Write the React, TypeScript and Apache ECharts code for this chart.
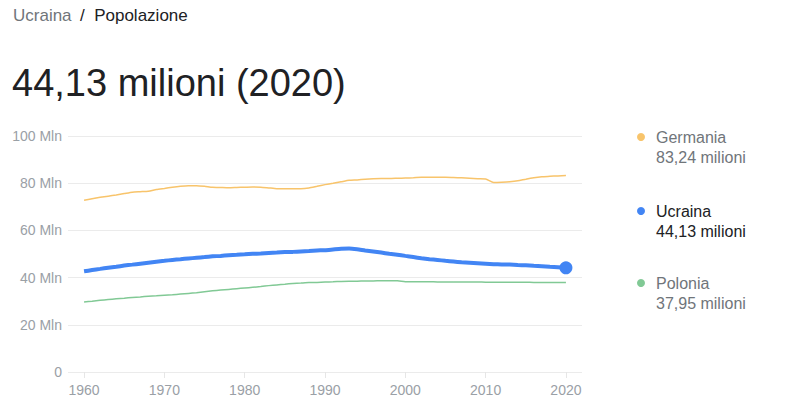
import React, { useEffect, useRef } from "react";
import * as echarts from "echarts";

const years: number[] = [];
for (let y = 1960; y <= 2020; y++) years.push(y);

const germania = [
  72.8, 73.4, 74.0, 74.5, 75.0, 75.6, 76.2, 76.4, 76.6, 77.3,
  77.8, 78.3, 78.7, 78.95, 78.97, 78.7, 78.3, 78.2, 78.1, 78.2,
  78.3, 78.4, 78.3, 78.0, 77.7, 77.7, 77.7, 77.7, 78.0, 78.7,
  79.4, 80.0, 80.6, 81.2, 81.4, 81.7, 81.9, 82.0, 82.0, 82.1,
  82.2, 82.3, 82.5, 82.5, 82.5, 82.5, 82.4, 82.3, 82.1, 81.9,
  81.8, 80.3, 80.4, 80.6, 81.0, 81.7, 82.3, 82.7, 82.9, 83.1,
  83.24,
];
const ucraina = [
  42.66, 43.2, 43.7, 44.2, 44.6, 45.1, 45.5, 45.9, 46.3, 46.7,
  47.1, 47.5, 47.8, 48.1, 48.4, 48.7, 49.0, 49.2, 49.5, 49.7,
  49.9, 50.1, 50.2, 50.4, 50.6, 50.8, 50.9, 51.1, 51.3, 51.5,
  51.6, 51.9, 52.2, 52.3, 52.0, 51.5, 51.1, 50.6, 50.1, 49.7,
  49.2, 48.7, 48.2, 47.8, 47.5, 47.1, 46.8, 46.5, 46.3, 46.1,
  45.9, 45.7, 45.6, 45.5, 45.3, 45.2, 45.0, 44.8, 44.6, 44.4,
  44.13,
];
const polonia = [
  29.64, 30.0, 30.4, 30.7, 31.0, 31.3, 31.6, 31.8, 32.1, 32.3,
  32.5, 32.7, 33.0, 33.3, 33.6, 34.0, 34.4, 34.7, 35.0, 35.3,
  35.6, 35.9, 36.2, 36.6, 36.9, 37.2, 37.5, 37.7, 37.9, 37.96,
  38.1, 38.2, 38.4, 38.5, 38.5, 38.6, 38.6, 38.65, 38.66, 38.66,
  38.26, 38.25, 38.23, 38.2, 38.18, 38.17, 38.14, 38.12, 38.13, 38.15,
  38.04, 38.06, 38.06, 38.04, 38.01, 37.99, 37.97, 37.97, 37.97, 37.97,
  37.95,
];

const seriesNames = ["Germania", "Ucraina", "Polonia"];
const seriesColors = ["#f8c46b", "#4285f4", "#81c995"];
const yTicks = [0, 20, 40, 60, 80, 100];
const xTicks = [1960, 1970, 1980, 1990, 2000, 2010, 2020];

const FONT = "Arial, 'Liberation Sans', sans-serif";

const fmt = (v: number) => v.toFixed(2).replace(".", ",") + " milioni";

export default function App() {
  const ref = useRef<HTMLDivElement>(null);
  useEffect(() => {
    if (!ref.current) return;
    const chart = echarts.init(ref.current, undefined, { renderer: "svg" });
    const datasets = [germania, ucraina, polonia];
    const pairs = (arr: number[]) => arr.map((v, i) => [years[i], v]);
    const legendY = [137, 211, 283];
    const legendGraphics: any[] = [];
    seriesNames.forEach((name, i) => {
      const last = datasets[i][datasets[i].length - 1];
      const isMain = name === "Ucraina";
      legendGraphics.push({
        type: "circle",
        shape: { cx: 641, cy: legendY[i], r: 4 },
        style: { fill: seriesColors[i] },
      });
      legendGraphics.push({
        type: "text",
        x: 656,
        y: legendY[i],
        style: {
          text: name,
          fill: isMain ? "#202124" : "#70757a",
          font: `16px ${FONT}`,
          textVerticalAlign: "middle",
        },
      });
      legendGraphics.push({
        type: "text",
        x: 656,
        y: legendY[i] + 20,
        style: {
          text: fmt(last),
          fill: isMain ? "#202124" : "#70757a",
          font: `16px ${FONT}`,
          textVerticalAlign: "middle",
        },
      });
    });

    chart.setOption({
      animation: false,
      grid: { left: 68, right: 205, top: 136, bottom: 40 },
      xAxis: {
        type: "value",
        min: 1958,
        max: 2022,
        interval: 2,
        axisLine: { show: false },
        axisTick: {
          show: true,
          customValues: xTicks,
          length: 6,
          lineStyle: { color: "#e6e6e6" },
        },
        splitLine: { show: false },
        axisLabel: {
          color: "#9aa0a6",
          fontFamily: FONT,
          fontSize: 14,
          margin: 11,
          customValues: xTicks,
          formatter: (v: number) => String(v),
        },
      },
      yAxis: {
        type: "value",
        min: yTicks[0],
        max: yTicks[yTicks.length - 1],
        interval: 20,
        axisLine: { show: false },
        axisTick: { show: false },
        splitLine: { lineStyle: { color: "#ebebeb", width: 1 } },
        axisLabel: {
          color: "#9aa0a6",
          fontFamily: FONT,
          fontSize: 14,
          margin: 6,
          formatter: (v: number) => (v === 0 ? "0" : `${v} Mln`),
        },
      },
      series: [
        {
          name: seriesNames[0],
          type: "line",
          data: pairs(germania),
          showSymbol: false,
          smooth: 0.2,
          lineStyle: { color: seriesColors[0], width: 1.5 },
          z: 2,
        },
        {
          name: seriesNames[2],
          type: "line",
          data: pairs(polonia),
          showSymbol: false,
          smooth: 0.2,
          lineStyle: { color: seriesColors[2], width: 1.5 },
          z: 2,
        },
        {
          name: seriesNames[1],
          type: "line",
          data: pairs(ucraina).map((p, i, a) =>
            i === a.length - 1
              ? { value: p, symbol: "circle", symbolSize: 13, itemStyle: { color: seriesColors[1] } }
              : { value: p, symbol: "none" }
          ),
          showSymbol: true,
          showAllSymbol: true,
          smooth: 0.2,
          lineStyle: { color: seriesColors[1], width: 4 },
          z: 3,
        },
      ],
      graphic: [
        {
          type: "text",
          x: 13,
          y: 15,
          style: {
            text: "Ucraina",
            fill: "#70757a",
            font: `17px ${FONT}`,
            textVerticalAlign: "middle",
          },
        },
        {
          type: "text",
          x: 80,
          y: 15,
          style: {
            text: "/  Popolazione",
            fill: "#202124",
            font: `17px ${FONT}`,
            textVerticalAlign: "middle",
          },
        },
        {
          type: "text",
          x: 12,
          y: 83,
          style: {
            text: `${ucraina[ucraina.length - 1].toFixed(2).replace(".", ",")} milioni (${years[years.length - 1]})`,
            fill: "#202124",
            font: `38px ${FONT}`,
            textVerticalAlign: "middle",
          },
        },
        ...legendGraphics,
      ],
    });
    return () => chart.dispose();
  }, []);
  return (
    <div
      ref={ref}
      style={{ position: "fixed", left: 0, top: 0, width: 787, height: 412, background: "#fff" }}
    />
  );
}
